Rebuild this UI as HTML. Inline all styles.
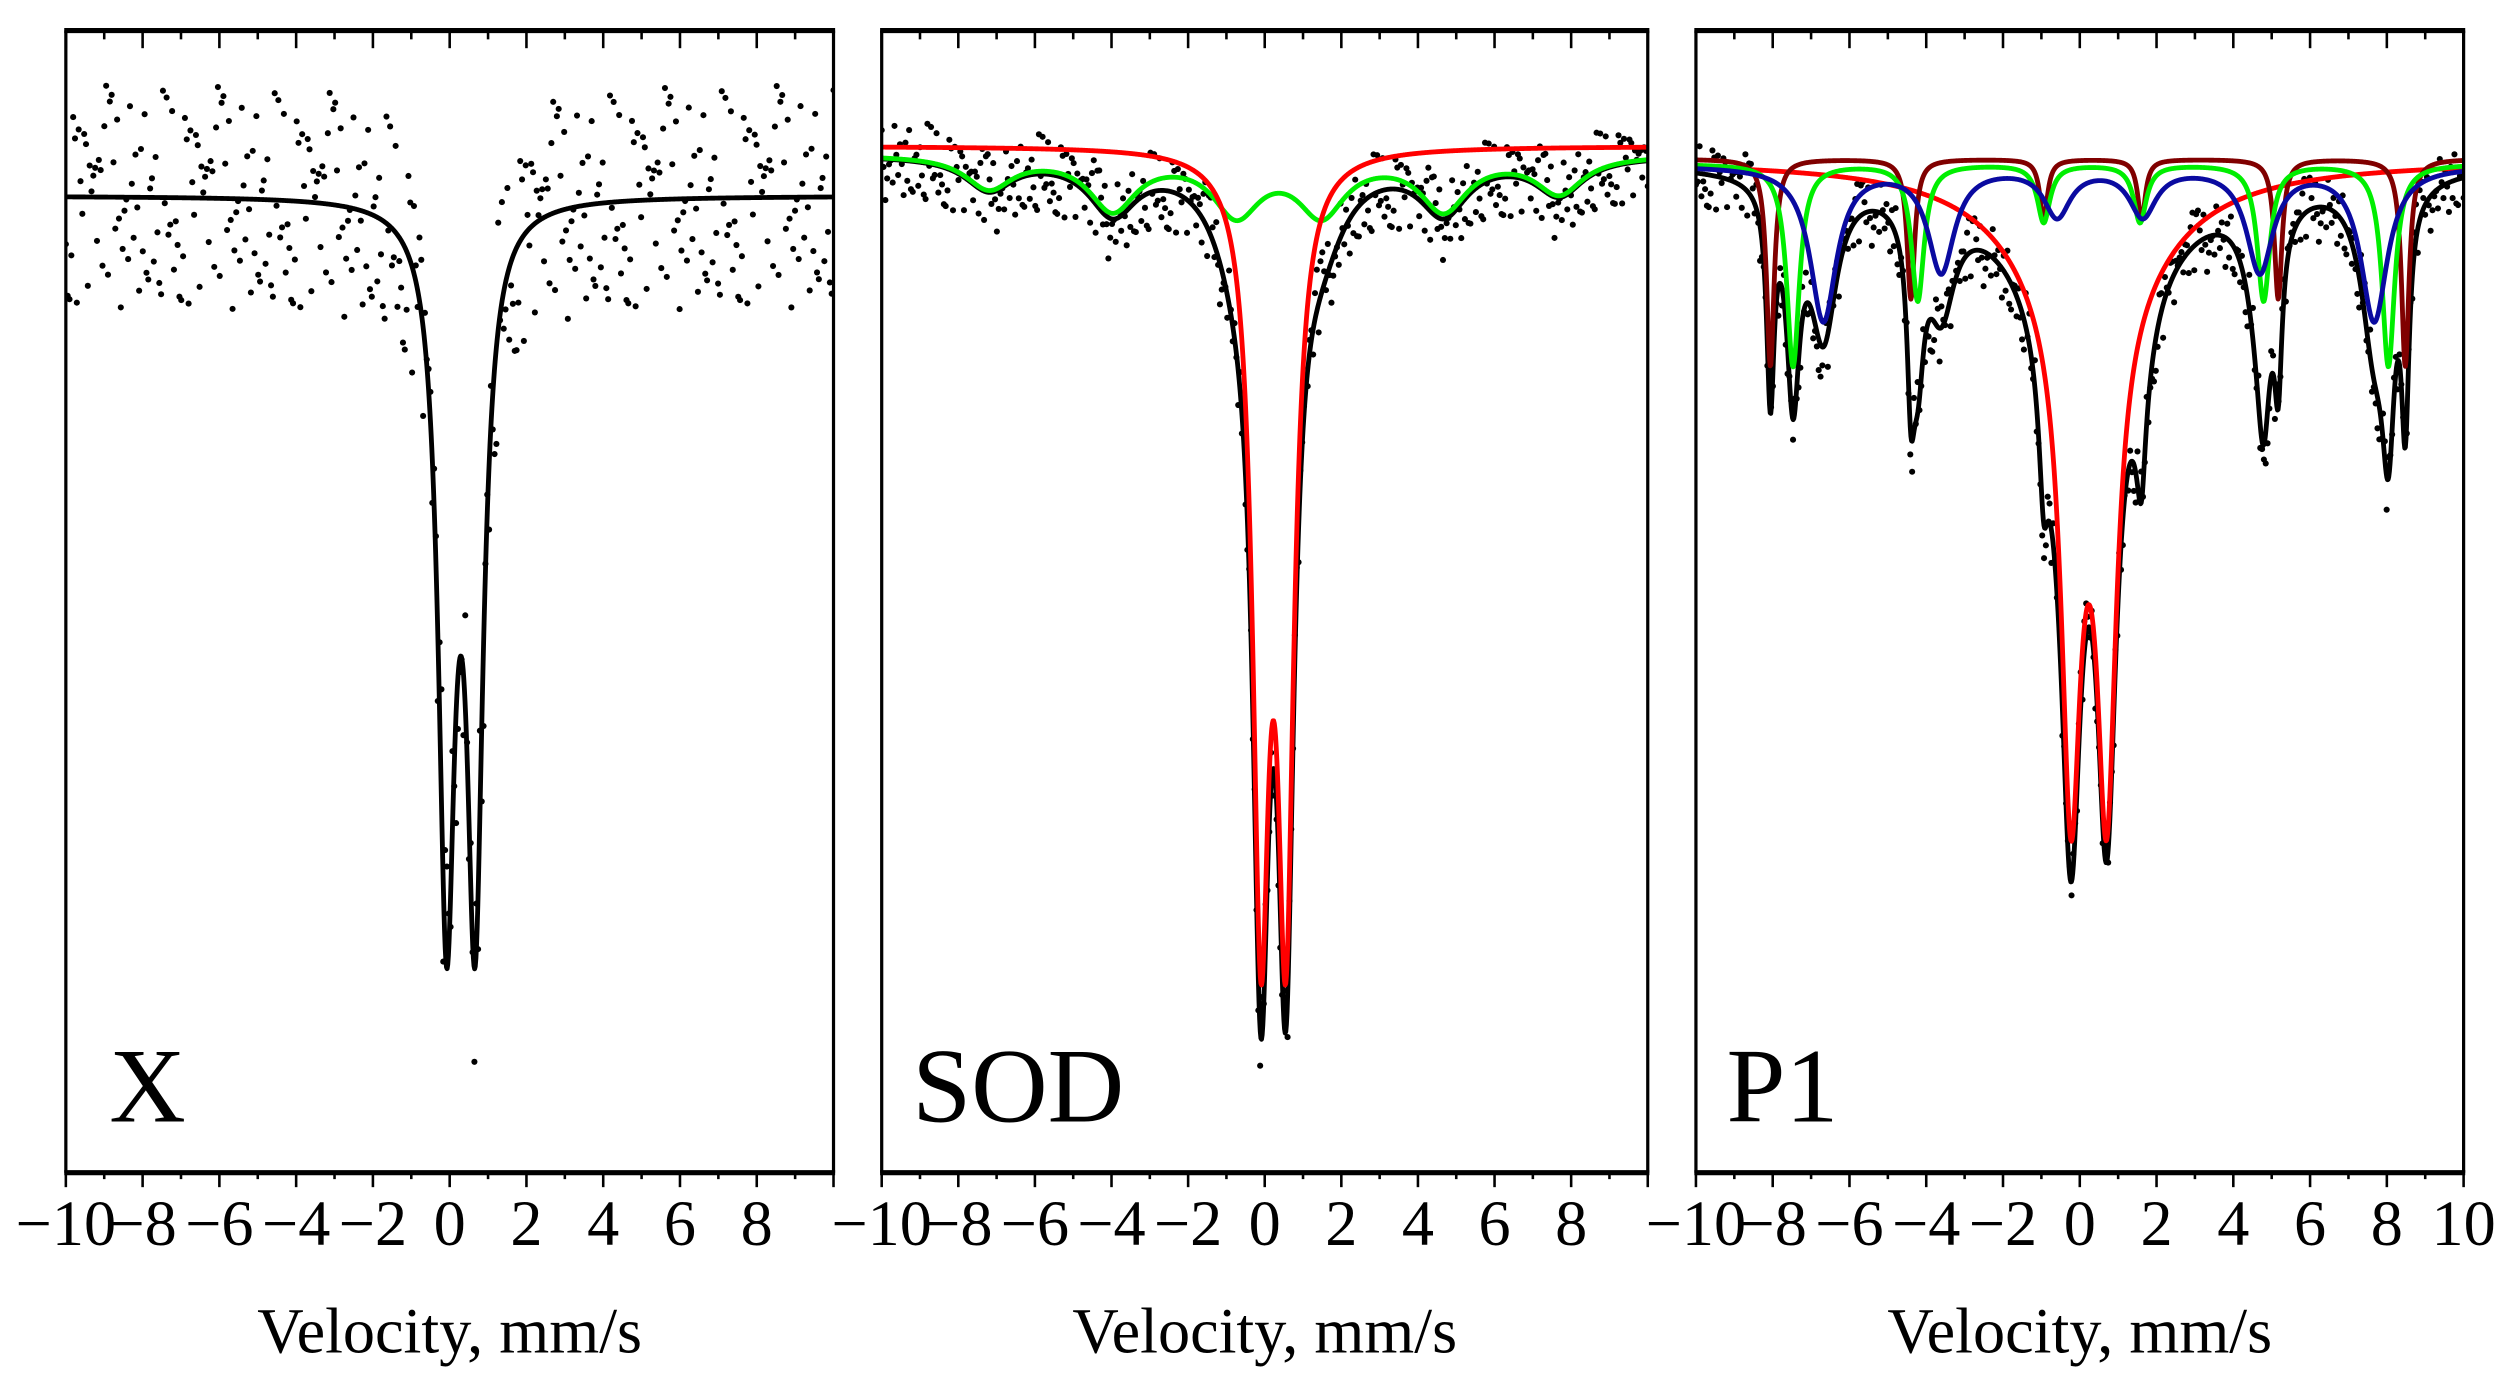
<!DOCTYPE html>
<html><head><meta charset="utf-8"><style>
html,body{margin:0;padding:0;background:#fff;}
svg{display:block;}
text{font-family:"Liberation Serif",serif;fill:#000;}
</style></head><body>
<svg id="fig" width="2515" height="1396" viewBox="0 0 1566 869" preserveAspectRatio="none" xmlns="http://www.w3.org/2000/svg"></svg>
<script>
// ---- data ----
const xTicks = [-10,-8,-6,-4,-2,0,2,4,6,8,10];
const xTickLabelsAB = ["\u221210","\u22128","\u22126","\u22124","\u22122","0","2","4","6","8"];
const xTickLabelsC = ["\u221210","\u22128","\u22126","\u22124","\u22122","0","2","4","6","8","10"];
const panelNames = ["X","SOD","P1"];
// Panel X: doublet
const xDoubletPos = [-0.08, 0.66];
const xDoubletAmp = [43.3, 43.3];
const xDoubletWidth = 0.26;
// Panel SOD
const sodRedPos = [-0.10, 0.55];
const sodRedAmp = [45.8, 45.8];
const sodRedWidth = 0.26;
const sodGreenPos = [-7.20, -3.97, -0.74, 1.48, 4.67, 7.69];
const sodGreenAmp = [2.0, 3.3, 3.5, 3.5, 3.3, 2.3];
const sodGreenWidth = 0.75;
const sodGreenOffset = 0.5;
// Panel P1
const p1RedPos = [-0.23, 0.70];
const p1RedAmp = [30.0, 30.0];
const p1RedWidth = 0.3;
const p1RedBroadPos = [0.23];
const p1RedBroadAmp = [10];
const p1RedBroadWidth = 2.0;
const p1BrownPos = [-8.06, -4.40, -0.94, 1.61, 5.17, 8.48];
const p1BrownAmp = [12.9, 8.7, 3.8, 3.8, 8.7, 12.9];
const p1BrownWidth = 0.12;
const p1GreenPos = [-7.47, -4.22, -0.94, 1.57, 4.79, 8.04];
const p1GreenAmp = [12.6, 8.5, 3.6, 3.6, 8.5, 12.6];
const p1GreenWidth = 0.2;
const p1BluePos = [-6.68, -3.61, -0.59, 1.64, 4.69, 7.67];
const p1BlueAmp = [9.6, 6.5, 3.0, 3.0, 6.5, 9.6];
const p1BlueWidth = 0.42;
// measurement scatter (residual noise, cycled)
const noise = [0.42,-0.81,0.15,0.67,-0.33,-0.95,0.28,0.88,-0.12,-0.56,0.73,-0.24,0.05,-0.69,0.91,0.36,-0.47,-0.08,0.61,-0.89,0.19,0.52,-0.38,0.79,-0.17,-0.63,0.33,0.98,-0.71,0.09,-0.28,0.57,-0.99,0.24,0.46,-0.52,0.83,-0.05,-0.36,0.69,-0.77,0.12,0.94,-0.43,-0.19,0.31,-0.85,0.64,0.02,-0.6,0.48,-0.26,0.76,-0.91,0.21,0.55,-0.14,-0.74,0.39,0.86,-0.31];
const noiseAmp = [7.0, 2.6, 2.2];

// ---- layout ----
const panels = [{l:41,r:519},{l:549,r:1026},{l:1056,r:1534}];
const TOP=19, BOT=730;
const basePx = [122, 91, 100];
const PX_PER_PCT = 10;
const svg = document.getElementById('fig');
const NS = "http://www.w3.org/2000/svg";
function mk(tag, attrs, parent){ const e=document.createElementNS(NS,tag); for(const k in attrs) e.setAttribute(k, attrs[k]); (parent||svg).appendChild(e); return e; }
function xs(p,v){ return panels[p].l + (v+10)/20*(panels[p].r-panels[p].l); }
function ys(p,depth){ return basePx[p] + depth*PX_PER_PCT; }
function lor(v,pos,amp,g){ let s=0; for(let i=0;i<pos.length;i++){ const d=v-pos[i]; s+=amp[i]*g*g/(g*g+d*d);} return s; }

const model = [
  {total: v=>lor(v,xDoubletPos,xDoubletAmp,xDoubletWidth), comps: []},
  {total: v=>lor(v,sodRedPos,sodRedAmp,sodRedWidth)+lor(v,sodGreenPos,sodGreenAmp,sodGreenWidth)+sodGreenOffset,
   comps: [
     {name:'green-subspectrum', color:'#00ee00', f: v=>lor(v,sodGreenPos,sodGreenAmp,sodGreenWidth)+sodGreenOffset},
     {name:'red-doublet', color:'#ff0000', f: v=>lor(v,sodRedPos,sodRedAmp,sodRedWidth)}]},
  {total: v=>lor(v,p1RedPos,p1RedAmp,p1RedWidth)+lor(v,p1RedBroadPos,p1RedBroadAmp,p1RedBroadWidth)+lor(v,p1BrownPos,p1BrownAmp,p1BrownWidth)+lor(v,p1GreenPos,p1GreenAmp,p1GreenWidth)+lor(v,p1BluePos,p1BlueAmp,p1BlueWidth),
   comps: [
     {name:'red-doublet', color:'#ff0000', f: v=>lor(v,p1RedPos,p1RedAmp,p1RedWidth)+lor(v,p1RedBroadPos,p1RedBroadAmp,p1RedBroadWidth)},
     {name:'brown-sextet', color:'#800000', f: v=>lor(v,p1BrownPos,p1BrownAmp,p1BrownWidth)-0.1},
     {name:'green-sextet', color:'#00ee00', f: v=>lor(v,p1GreenPos,p1GreenAmp,p1GreenWidth)+0.2},
     {name:'blue-sextet', color:'#0a0aa0', f: v=>lor(v,p1BluePos,p1BlueAmp,p1BlueWidth)+0.3}]}
];

function curvePath(p,f){
  let d=''; const N=1200;
  for(let i=0;i<=N;i++){ const v=-10+20*i/N; let y=ys(p,f(v)); y=Math.min(y,BOT-2); d+=(i?'L':'M')+xs(p,v).toFixed(2)+' '+y.toFixed(2); }
  return d;
}

for(let p=0;p<3;p++){
  const g = mk('g',{});
  
  
  const clipId='clip'+p;
  const cp = mk('clipPath',{id:clipId},g);
  mk('rect',{x:panels[p].l,y:TOP,width:panels[p].r-panels[p].l,height:BOT-TOP},cp);
  const plot = mk('g',{'clip-path':'url(#'+clipId+')'},g);
  const pts = mk('g',{},plot);
  
  
  const NP=420;
  for(let i=0;i<NP;i++){
    const v=-10+20*i/(NP-1);
    const n = noise[(i*7+p*13)%noise.length];
    const depth = model[p].total(v) + n*noiseAmp[p];
    const c = mk('circle',{cx:xs(p,v).toFixed(2), cy:ys(p,depth).toFixed(2), r:1.9, fill:'#000'},pts);
    
    
  }
  const tf = mk('path',{d:curvePath(p,model[p].total), fill:'none', stroke:'#000', 'stroke-width':3, 'stroke-linejoin':'round'},plot);
  
  
  for(const c of model[p].comps){
    const cl = mk('path',{d:curvePath(p,c.f), fill:'none', stroke:c.color, 'stroke-width':3, 'stroke-linejoin':'round'},plot);
    
    
  }
  const L=panels[p].l, R=panels[p].r;
  const fr = mk('g',{},g);
  
  
  mk('line',{x1:L,y1:TOP,x2:L,y2:BOT,stroke:'#000','stroke-width':2},fr);
  mk('line',{x1:R,y1:TOP,x2:R,y2:BOT,stroke:'#000','stroke-width':2},fr);
  mk('line',{x1:L-1,y1:TOP,x2:R+1,y2:TOP,stroke:'#000','stroke-width':3.2},fr);
  mk('line',{x1:L-1,y1:BOT,x2:R+1,y2:BOT,stroke:'#000','stroke-width':3.2},fr);
  const ax = mk('g',{},g);
  
  
  for(let v=-10; v<=10; v++){
    const major = (v%2===0);
    const x=xs(p,v);
    mk('line',{x1:x,y1:BOT,x2:x,y2:BOT+(major?9:4),stroke:'#000','stroke-width':1.6},ax);
    mk('line',{x1:x,y1:TOP,x2:x,y2:TOP+(major?11:5.5),stroke:'#000','stroke-width':1.6},ax);
  }
  const labels = p===2 ? xTickLabelsC : xTickLabelsAB;
  for(let i=0;i<labels.length;i++){
    const t = mk('text',{x:xs(p,xTicks[i]), y:775, 'font-size':40, 'text-anchor':'middle'},ax);
    t.textContent = labels[i];
    
    
  }
  const tt = mk('text',{x:(L+R)/2, y:842, 'font-size':40, 'text-anchor':'middle'},g);
  tt.textContent = 'Velocity, mm/s';
  
  
  const pl = mk('text',{x:L+(p===0?27:19), y:698, 'font-size':66},g);
  pl.textContent = panelNames[p];
  
  
}
</script>
</body></html>
